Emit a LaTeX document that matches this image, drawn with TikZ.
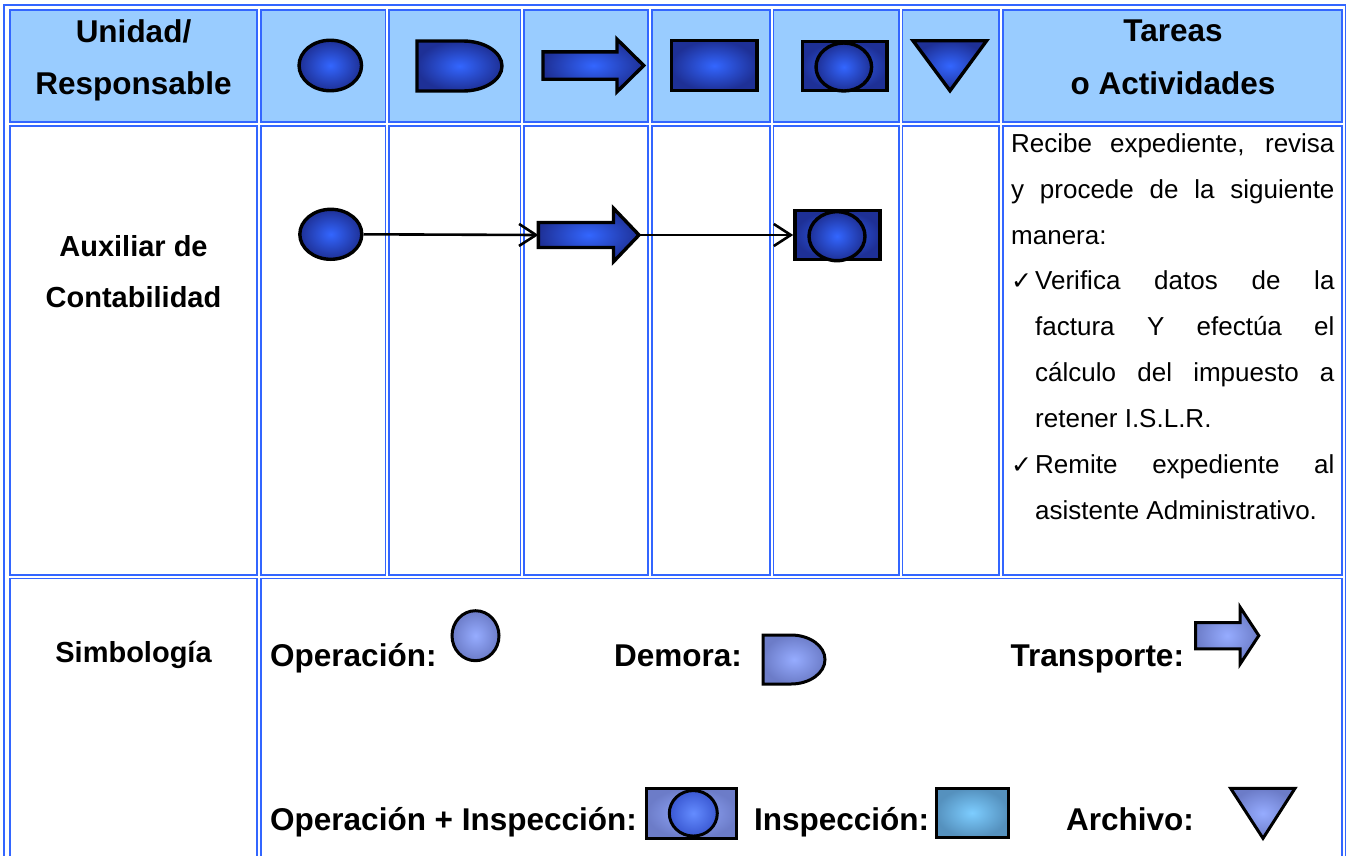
\documentclass[tikz,border=0pt]{standalone}
\usepackage{fontspec}
\setmainfont{Liberation Sans}
\newfontfamily\djv{DejaVu Sans}
\usetikzlibrary{shapes.geometric,arrows.meta}
\definecolor{tblue}{RGB}{51,102,255}
\definecolor{hdr}{RGB}{153,204,255}
\definecolor{symin}{RGB}{51,102,255}
\definecolor{symout}{RGB}{30,48,150}
\definecolor{legin}{RGB}{150,172,255}
\definecolor{legout}{RGB}{108,124,200}
\definecolor{ciin}{RGB}{100,140,255}
\definecolor{ciout}{RGB}{58,88,210}
\definecolor{insin}{RGB}{125,205,255}
\definecolor{insout}{RGB}{85,145,190}
\tikzset{
  cell/.style={draw=tblue, line width=1.8pt},
  hcell/.style={cell, fill=hdr},
  sym/.style={draw=black, line width=3.4pt, shade, inner color=symin, outer color=symout, inner sep=0pt},
  leg/.style={draw=black, line width=3pt, shade, inner color=legin, outer color=legout, inner sep=0pt},
  cileg/.style={draw=black, line width=3pt, shade, inner color=ciin, outer color=ciout, inner sep=0pt},
  insleg/.style={draw=black, line width=3pt, shade, inner color=insin, outer color=insout, inner sep=0pt},
  hb/.style={font=\fontsize{31.5}{36}\selectfont\bfseries, anchor=base, inner sep=0pt},
  lb/.style={font=\fontsize{29}{34}\selectfont\bfseries, anchor=base, inner sep=0pt},
  body/.style={font=\fontsize{26}{30}\selectfont, anchor=base west, inner sep=0pt},
  chk/.style={font=\djv\fontsize{25}{28}\selectfont, anchor=base west, inner sep=0pt},
  ghost/.style={inner sep=0pt, outer sep=0pt},
  flow/.style={line width=2.6pt, -{Straight Barb[length=17pt,width=22pt]}},
}
\begin{document}
\begin{tikzpicture}[x=1pt,y=-1pt]
\useasboundingbox (0,0) rectangle (1349,855);
\fill[white] (0,0) rectangle (1349,855);
\clip (0,0) rectangle (1349,855);
% table
\draw[cell] (3.9,5) rectangle (1345.5,900);
\foreach \a/\b in {9.8/257.3, 261/385.5, 389.2/520.5, 524.2/648.2, 651.9/769.8, 773.5/898.8, 902.5/999, 1002.7/1342}{
  \draw[hcell] (\a,10) rectangle (\b,122);
  \draw[cell] (\a,125.8) rectangle (\b,575);
}
\draw[cell] (9.8,578.5) rectangle (257.3,900);
\draw[cell] (261,578.5) rectangle (1342,900);

% header texts
\node[hb] (hu1) at (133.5,42) {Unidad/};
\node[hb] (hu2) at (133.5,94) {Responsable};
\node[hb] (ht1) at (1173,41) {Tareas};
\node[hb] (ht2) at (1173,94) {o Actividades};

% header symbols
\node[sym, ellipse, minimum width=62.5, minimum height=50.5] (hop) at (330.3,65.5) {};
\path[sym] (417,41) -- (463,41) arc[start angle=-90, end angle=90, x radius=39, y radius=25] -- (417,91) -- cycle;
\path[sym] (543,51.8) -- (617,51.8) -- (617,39.2) -- (643.7,65.5) -- (617,91.8) -- (617,79.2) -- (543,79.2) -- cycle;
\node[sym, rectangle, minimum width=85.6, minimum height=50] (hin) at (714.2,65.7) {};
\node[sym, rectangle, minimum width=84.5, minimum height=49] (hoi) at (844.7,66.2) {};
\node[sym, ellipse, minimum width=55.6, minimum height=48] (hoic) at (843.8,67) {};
\path[sym] (913,40.7) -- (986.6,40.7) -- (950,90.7) -- cycle;

% row 2
\node[lb] (ra1) at (133.5,256) {Auxiliar de};
\node[lb] (ra2) at (133.5,307) {Contabilidad};

\node[sym, ellipse, minimum width=62, minimum height=50] (op1) at (330.8,234.3) {};
\node[ghost, minimum width=100.6, minimum height=53.4] (tr1) at (588.7,235) {};
\path[sym] (tr1.west) +(0,-12.5) -- +(75.1,-12.5) -- +(75.1,-26.7) -- +(100.6,0) -- +(75.1,26.7) -- +(75.1,12.5) -- +(0,12.5) -- cycle;
\node[sym, rectangle, minimum width=85, minimum height=48.6] (oi1) at (837.4,235) {};
\node[sym, ellipse, minimum width=56, minimum height=49] (oi1c) at (837,236.2) {};
\draw[flow] (op1.east) -- (tr1.west);
\draw[flow] (tr1.east) -- (oi1.west);

% tasks text
\node[body] (t1) at (1011,152.3) {\makebox[323.3pt][s]{Recibe expediente, revisa}};
\node[body] (t2) at (1011,198.2) {\makebox[323.3pt][s]{y procede de la siguiente}};
\node[body] (t3) at (1011,244) {manera:};
\node[chk] (c1) at (1011,289.8) {✓};
\node[body] (t4) at (1035,289.8) {\makebox[299.3pt][s]{Verifica datos de la}};
\node[body] (t5) at (1035,335.7) {\makebox[299.3pt][s]{factura Y efectúa el}};
\node[body] (t6) at (1035,381.6) {\makebox[299.3pt][s]{cálculo del impuesto a}};
\node[body] (t7) at (1035,427.4) {retener I.S.L.R.};
\node[chk] (c2) at (1011,473.3) {✓};
\node[body] (t8) at (1035,473.3) {\makebox[299.3pt][s]{Remite expediente al}};
\node[body] (t9) at (1035,519) {asistente Administrativo.};

% row 3: legend
\node[lb] (sim) at (133.5,662) {Simbología};
\node[hb, anchor=base west] (lo) at (270,666) {Operación:};
\node[leg, ellipse, minimum width=47, minimum height=50] (lop) at (475.5,635.7) {};
\node[hb, anchor=base west] (ld) at (614,666) {Demora:};
\path[leg] (763,635) -- (791,635) arc[start angle=-90, end angle=90, x radius=34, y radius=24.5] -- (763,684) -- cycle;
\node[hb, anchor=base west] (lt) at (1010.5,666) {Transporte:};
\path[leg] (1195.5,622.6) -- (1240,622.6) -- (1240,607) -- (1258.8,635.6) -- (1240,664.2) -- (1240,648.8) -- (1195.5,648.8) -- cycle;

\node[hb, anchor=base west] (loi) at (270,830) {Operación + Inspección:};
\node[leg, rectangle, minimum width=90, minimum height=50] (loib) at (691.7,813.3) {};
\node[cileg, ellipse, minimum width=48, minimum height=45.5] (loic) at (693.3,813.3) {};
\node[hb, anchor=base west] (li) at (753.8,830) {Inspección:};
\node[insleg, rectangle, minimum width=72, minimum height=49] (lins) at (972,812.8) {};
\node[hb, anchor=base west] (la) at (1066,830) {Archivo:};
\path[leg] (1230.6,788.3) -- (1295,788.3) -- (1263,838.3) -- cycle;
\end{tikzpicture}
\end{document}
